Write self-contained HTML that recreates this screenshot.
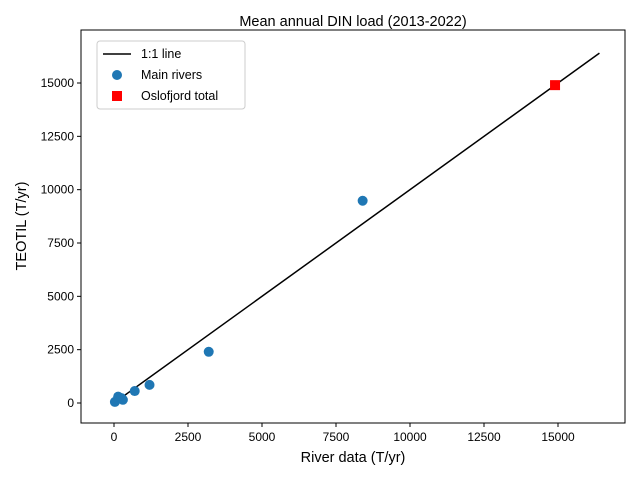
<!DOCTYPE html>
<html><head><meta charset="utf-8"><style>body{margin:0;background:#fff}svg{font-family:"Liberation Sans","DejaVu Sans",sans-serif}</style></head>
<body>
<svg id="chart" width="640" height="480"></svg>
<script>
const riverX=[30,140,250,300,700,1200,3200,8400];
const riverY=[50,300,230,150,560,850,2400,9480];
const osloX=[14900];
const osloY=[14900];
const lineRange=[0,16400];
const xTicks=[0,2500,5000,7500,10000,12500,15000];
const yTicks=[0,2500,5000,7500,10000,12500,15000];
const NS='http://www.w3.org/2000/svg';
const svg=document.getElementById('chart');
const L=81,R=625,T=30,B=423;
const sx=v=>114+v*0.02960;
const sy=v=>403-v*0.021333;
function mk(t,a,p){const e=document.createElementNS(NS,t);for(const k in a)e.setAttribute(k,a[k]);(p||svg).appendChild(e);return e;}
const title=mk('text',{x:353,y:26,'text-anchor':'middle','font-size':14.5});title.textContent='Mean annual DIN load (2013-2022)';


xTicks.forEach(v=>{const x=sx(v);mk('line',{x1:x,x2:x,y1:B,y2:B+4,stroke:'#000'});const t=mk('text',{x:x,y:B+18,'text-anchor':'middle','font-size':12});t.textContent=v;

});
yTicks.forEach(v=>{const y=sy(v);mk('line',{x1:L-4,x2:L,y1:y,y2:y,stroke:'#000'});const t=mk('text',{x:L-7,y:y+4,'text-anchor':'end','font-size':12});t.textContent=v;

});
const xl=mk('text',{x:353,y:462,'text-anchor':'middle','font-size':14.5});xl.textContent='River data (T/yr)';


const yl=mk('text',{x:26,y:226,'text-anchor':'middle','font-size':14.5,transform:'rotate(-90 26 226)'});yl.textContent='TEOTIL (T/yr)';


const ln=mk('line',{x1:sx(lineRange[0]),y1:sy(lineRange[0]),x2:sx(lineRange[1]),y2:sy(lineRange[1]),stroke:'#000','stroke-width':1.5});


riverX.forEach((v,i)=>{const c=mk('circle',{cx:sx(v),cy:sy(riverY[i]),r:5,fill:'#1f77b4'});

});
osloX.forEach((v,i)=>{const s=mk('rect',{x:sx(v)-5,y:sy(osloY[i])-5,width:10,height:10,fill:'#ff0000'});

});
const fr=mk('rect',{x:L,y:T,width:R-L,height:B-T,fill:'none',stroke:'#000','stroke-width':1});


const lg=mk('g',{});


mk('rect',{x:97,y:41,width:148,height:68,rx:3,fill:'#fff',stroke:'#ccc'},lg);
mk('line',{x1:103,x2:131,y1:54,y2:54,stroke:'#000','stroke-width':1.5},lg);
mk('circle',{cx:117,cy:75,r:5,fill:'#1f77b4'},lg);
mk('rect',{x:112,y:91,width:10,height:10,fill:'#ff0000'},lg);
[['1:1 line',58],['Main rivers',79],['Oslofjord total',100]].forEach(([s,y])=>{const t=mk('text',{x:141,y:y,'font-size':12.5},lg);t.textContent=s;

});
</script>
</body></html>
